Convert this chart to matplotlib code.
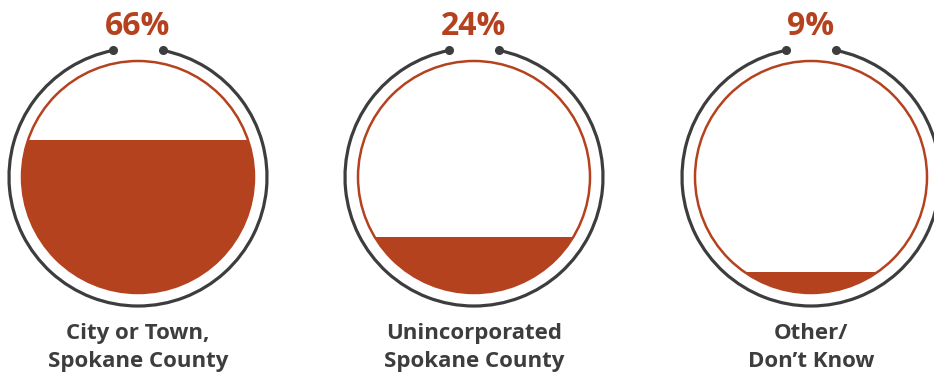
import numpy as np
import matplotlib
matplotlib.use("Agg")
import matplotlib.pyplot as plt
from matplotlib.patches import Circle, Arc, Rectangle

# Survey shares by place of residence
categories = ["City or Town,\nSpokane County", "Unincorporated\nSpokane County", "Other/\nDon\u2019t Know"]
values = [66, 24, 9]
pct_labels = ["66%", "24%", "9%"]

RUST = "#B5421F"
DARK = "#3D3D3D"

W, H = 934, 377
fig = plt.figure(figsize=(W / 100, H / 100), dpi=100)
ax = fig.add_axes([0, 0, 1, 1])
ax.set_xlim(0, W)
ax.set_ylim(H, 0)
ax.set_aspect("equal")
ax.axis("off")

centers_x = [138, 474, 811]
cy = 177
r_in = 116
r_out = 129
gap_deg = 11

for cx, cat, val, lab in zip(centers_x, categories, values, pct_labels):
    # outer ring with an opening at the top
    ring = Arc((cx, cy), 2 * r_out, 2 * r_out, angle=0,
               theta1=-90 + gap_deg, theta2=270 - gap_deg,
               color=DARK, lw=2.3)
    ax.add_patch(ring)
    # y axis is inverted, so the top of the circle is at angle 270 in data terms
    for a in (270 - gap_deg, 270 + gap_deg):
        t = np.deg2rad(a)
        ax.plot(cx + r_out * np.cos(t), cy + r_out * np.sin(t), "o",
                color=DARK, ms=5.5, zorder=5)

    # liquid fill: height proportional to the share
    clip = Circle((cx, cy), r_in, transform=ax.transData)
    level = cy + r_in - 2 * r_in * val / 100
    fill = Rectangle((cx - r_in, level), 2 * r_in, cy + r_in - level,
                     facecolor=RUST, edgecolor="none", zorder=2)
    ax.add_patch(fill)
    fill.set_clip_path(clip)

    ax.add_patch(Circle((cx, cy), r_in, facecolor="none", edgecolor=RUST,
                        lw=1.8, zorder=3))

    ax.text(cx, 35, lab, ha="center", va="baseline", color=RUST,
            fontsize=23, fontweight="bold", family="Open Sans")

    for i, line in enumerate(cat.split("\n")):
        ax.text(cx, 339 + 28 * i, line, ha="center", va="baseline",
                color=DARK, fontsize=16, fontweight="bold",
                family="Open Sans")

fig.savefig("out.png", dpi=100)
